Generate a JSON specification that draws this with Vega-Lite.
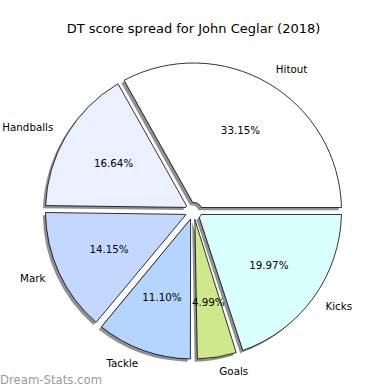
{
  "$schema": "https://vega.github.io/schema/vega-lite/v6.json",
  "width": 390,
  "height": 390,
  "autosize": {"type": "fit", "contains": "padding"},
  "padding": {"top": 23, "left": 0, "right": 3, "bottom": 0},
  "background": "white",
  "title": {"text": "DT score spread for John Ceglar (2018)", "fontSize": 13, "font": "DejaVu Sans", "fontWeight": "normal", "color": "black", "offset": -4, "anchor": "middle"},
  "config": {"view": {"stroke": null}, "text": {"font": "DejaVu Sans"}},
  "data": {"values": [
    {"label": "Hitout", "pct": 33.15, "i": 1},
    {"label": "Handballs", "pct": 16.64, "i": 2},
    {"label": "Mark", "pct": 14.15, "i": 3},
    {"label": "Tackle", "pct": 11.10, "i": 4},
    {"label": "Goals", "pct": 4.99, "i": 5},
    {"label": "Kicks", "pct": 19.97, "i": 6}
  ]},
  "transform": [
    {"stack": "pct", "groupby": [], "sort": [{"field": "i", "order": "descending"}], "as": ["s0", "s1"]},
    {"calculate": "(datum.s0 + datum.s1) / 2", "as": "mid"},
    {"calculate": "format(datum.pct, '.2f') + '%'", "as": "pctText"}
  ],
  "layer": [
    {
      "mark": {"type": "arc", "outerRadius": 148, "innerRadius": 8.5, "padAngle": 0.047, "fill": "#909090", "xOffset": -2.7, "yOffset": 2.7},
      "encoding": {
        "theta": {"field": "s0", "type": "quantitative", "scale": {"domain": [0, 100], "range": [1.5708, 7.854]}},
        "theta2": {"field": "s1"}
      }
    },
    {
      "mark": {"type": "arc", "outerRadius": 148, "innerRadius": 8.5, "padAngle": 0.047, "stroke": "black", "strokeWidth": 0.8},
      "encoding": {
        "theta": {"field": "s0", "type": "quantitative", "scale": {"domain": [0, 100], "range": [1.5708, 7.854]}},
        "theta2": {"field": "s1"},
        "fill": {"field": "label", "type": "nominal", "legend": null,
          "scale": {"domain": ["Hitout", "Handballs", "Mark", "Tackle", "Goals", "Kicks"],
                    "range": ["#ffffff", "#eaf0ff", "#c4d8ff", "#b3d5ff", "#cfe88a", "#d9ffff"]}}
      }
    },
    {
      "transform": [{"filter": {"field": "label", "oneOf": ["Hitout", "Goals", "Kicks"]}}],
      "mark": {"type": "text", "radius": 163, "align": "left", "baseline": "middle", "fontSize": 10.3, "color": "black"},
      "encoding": {
        "theta": {"field": "mid", "type": "quantitative", "scale": {"domain": [0, 100], "range": [1.5708, 7.854]}},
        "text": {"field": "label"}
      }
    },
    {
      "transform": [{"filter": {"field": "label", "oneOf": ["Handballs", "Mark", "Tackle"]}}],
      "mark": {"type": "text", "radius": 163, "align": "right", "baseline": "middle", "fontSize": 10.3, "color": "black"},
      "encoding": {
        "theta": {"field": "mid", "type": "quantitative", "scale": {"domain": [0, 100], "range": [1.5708, 7.854]}},
        "text": {"field": "label"}
      }
    },
    {
      "mark": {"type": "text", "radius": 93, "align": "center", "baseline": "middle", "fontSize": 10.3, "color": "black"},
      "encoding": {
        "theta": {"field": "mid", "type": "quantitative", "scale": {"domain": [0, 100], "range": [1.5708, 7.854]}},
        "text": {"field": "pctText"}
      }
    },
    {
      "data": {"values": [{"t": "Dream-Stats.com"}]},
      "mark": {"type": "text", "x": 0, "y": {"expr": "height - 6"}, "align": "left", "baseline": "alphabetic", "fontSize": 11.7, "color": "#9a9a9a"},
      "encoding": {"text": {"field": "t"}}
    }
  ]
}
